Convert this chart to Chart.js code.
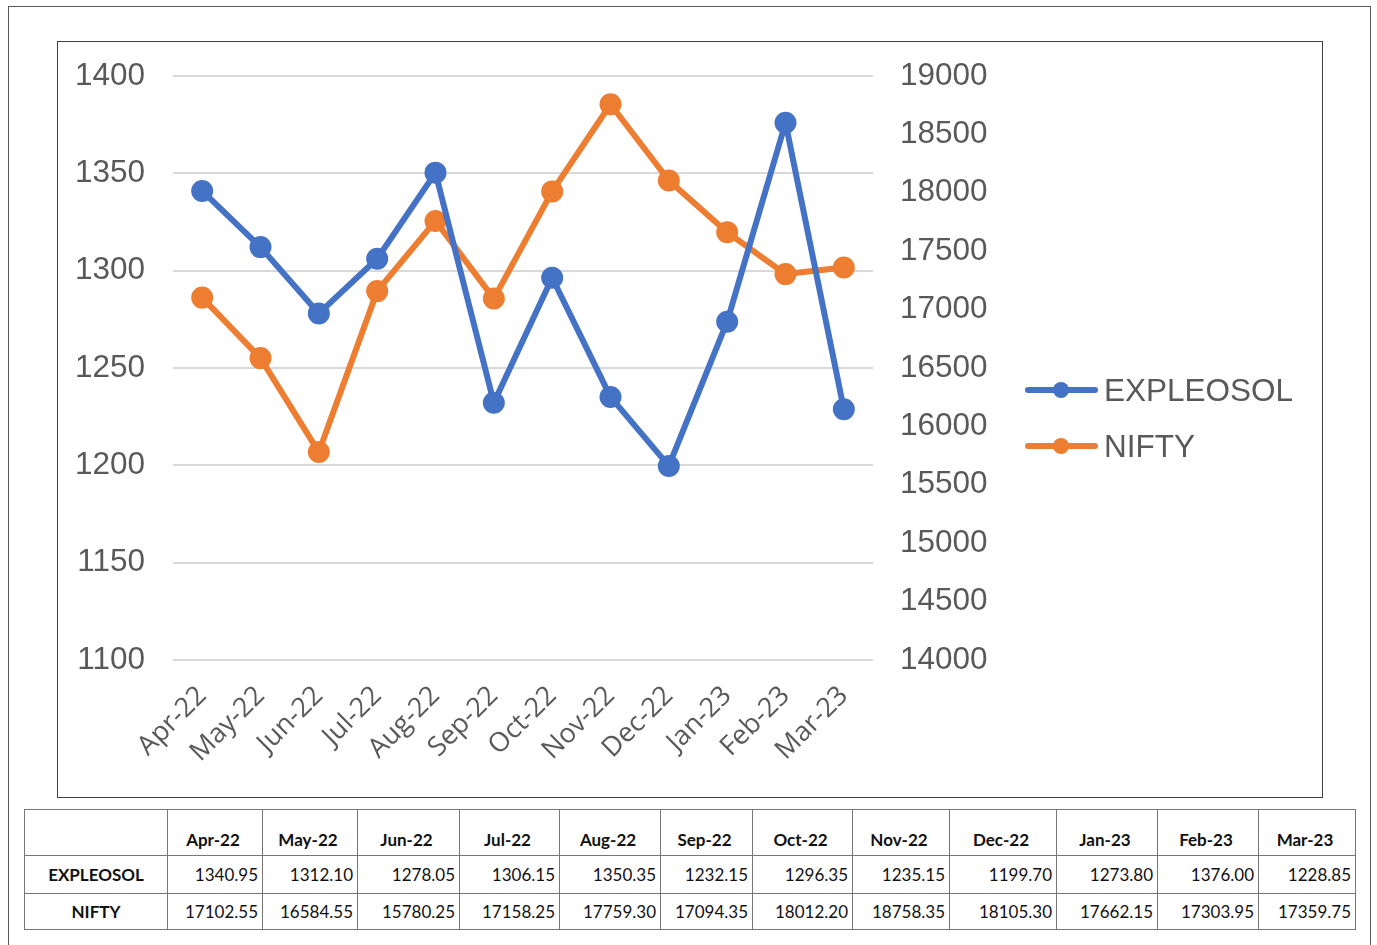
<!DOCTYPE html>
<html>
<head>
<meta charset="utf-8">
<script src="https://cdn.jsdelivr.net/npm/chart.js@4.4.1/dist/chart.umd.min.js"></script>
<style>
  html, body { margin: 0; padding: 0; background: #fff; width: 1377px; height: 945px; overflow: hidden; }
  #outer { position: absolute; left: 8px; top: 6px; width: 1363px; height: 960px; border: 1.5px solid #595959; box-sizing: border-box; }
  #inner { position: absolute; left: 57px; top: 41px; width: 1266px; height: 757px; border: 1.5px solid #404040; box-sizing: border-box; }
  #wrap { position: absolute; left: 58px; top: 42px; width: 1263px; height: 754px; }
  #legend { position: absolute; left: 1025px; top: 366px; font-family: "Liberation Sans", Arial, sans-serif; font-size: 31.5px; color: #595959; }
  .li { position: relative; height: 56px; }
  .ln { position: absolute; left: 0; top: 21px; width: 73px; height: 6px; border-radius: 3px; }
  .dt { position: absolute; left: 28px; top: 16px; width: 16px; height: 16px; border-radius: 50%; }
  .tx { position: absolute; left: 79px; top: 6px; white-space: nowrap; line-height: 36px; }
  table { position: absolute; left: 24px; top: 809px; border-collapse: collapse; table-layout: fixed; width: 1331px; font-family: Lato, "Open Sans", sans-serif; color: #111; }
  td { border: 1.5px solid #777; padding: 0 4px 0 0; text-align: right; font-size: 17px; height: 37px; }
  tr.r2 td { height: 35px; }
  tr.h td { height: 40px; vertical-align: bottom; padding-bottom: 5px; text-align: center; font-weight: bold; font-size: 17px; }
  td.rh { text-align: center; font-weight: bold; font-size: 17px; padding: 0; }
</style>
</head>
<body>
<div id="outer"></div>
<div id="inner"></div>
<div id="wrap"><canvas id="c"></canvas></div>
<div id="legend"></div>
<table id="tbl"></table>
<script>
const categories = ["Apr-22","May-22","Jun-22","Jul-22","Aug-22","Sep-22","Oct-22","Nov-22","Dec-22","Jan-23","Feb-23","Mar-23"];
const expleosol = [1340.95,1312.10,1278.05,1306.15,1350.35,1232.15,1296.35,1235.15,1199.70,1273.80,1376.00,1228.85];
const nifty = [17102.55,16584.55,15780.25,17158.25,17759.30,17094.35,18012.20,18758.35,18105.30,17662.15,17303.95,17359.75];
const seriesNames = ["EXPLEOSOL","NIFTY"];
const seriesColors = ["#4472C4","#ED7D31"];
const leftTicks = [1100,1150,1200,1250,1300,1350,1400];
const rightTicks = [14000,14500,15000,15500,16000,16500,17000,17500,18000,18500,19000];

const tickColor = "#595959";
const font = { family: "Liberation Sans, Arial, sans-serif", size: 31.5 };

new Chart(document.getElementById("c"), {
  type: "line",
  data: {
    labels: categories,
    datasets: [
      { label: seriesNames[0], data: expleosol, yAxisID: "y", borderColor: seriesColors[0], backgroundColor: seriesColors[0], borderWidth: 6, pointRadius: 8, pointHoverRadius: 8, tension: 0, borderCapStyle: "round", borderJoinStyle: "round" },
      { label: seriesNames[1], data: nifty, yAxisID: "y1", borderColor: seriesColors[1], backgroundColor: seriesColors[1], borderWidth: 6, pointRadius: 8, pointHoverRadius: 8, tension: 0, borderCapStyle: "round", borderJoinStyle: "round" }
    ]
  },
  options: {
    responsive: true,
    maintainAspectRatio: false,
    animation: false,
    layout: { padding: { top: 34, left: 0, right: 0, bottom: 0 } },
    plugins: { legend: { display: false }, tooltip: { enabled: false } },
    scales: {
      x: {
        offset: true,
        grid: { display: false, drawTicks: false },
        border: { display: false },
        ticks: { color: tickColor, font: { family: "Open Sans, sans-serif", size: 27 }, minRotation: 45, maxRotation: 45, padding: 20, autoSkip: false },
        afterFit: s => { s.height = 136; }
      },
      y: {
        position: "left",
        min: leftTicks[0], max: leftTicks[leftTicks.length - 1],
        afterBuildTicks: s => { s.ticks = leftTicks.map(v => ({ value: v })); },
        grid: { color: "#d9d9d9", lineWidth: 2, drawTicks: false },
        border: { display: false },
        ticks: { color: tickColor, font: font, padding: 28, callback: v => String(v) },
        afterFit: s => { s.width = 115; s.paddingTop = 0; s.paddingBottom = 0; }
      },
      y1: {
        position: "right",
        min: rightTicks[0], max: rightTicks[rightTicks.length - 1],
        afterBuildTicks: s => { s.ticks = rightTicks.map(v => ({ value: v })); },
        grid: { display: false, drawTicks: false },
        border: { display: false },
        ticks: { color: tickColor, font: font, padding: 27, callback: v => String(v) },
        afterFit: s => { s.width = 448; s.paddingTop = 0; s.paddingBottom = 0; }
      }
    }
  }
});

// legend
const lg = document.getElementById("legend");
seriesNames.forEach((n, i) => {
  const d = document.createElement("div");
  d.className = "li";
  d.innerHTML = '<div class="ln" style="background:' + seriesColors[i] + '"></div><div class="dt" style="background:' + seriesColors[i] + '"></div><div class="tx">' + n + '</div>';
  lg.appendChild(d);
});

// table
const colW = [143,95,95,102,100,101,92,100,97,107,101,101,97];
const tbl = document.getElementById("tbl");
let cg = "<colgroup>" + colW.map(w => '<col style="width:' + w + 'px">').join("") + "</colgroup>";
let html = cg + '<tr class="h"><td></td>' + categories.map(c => "<td>" + c + "</td>").join("") + "</tr>";
html += '<tr><td class="rh">' + seriesNames[0] + "</td>" + expleosol.map(v => "<td>" + v.toFixed(2) + "</td>").join("") + "</tr>";
html += '<tr class="r2"><td class="rh">' + seriesNames[1] + "</td>" + nifty.map(v => "<td>" + v.toFixed(2) + "</td>").join("") + "</tr>";
tbl.innerHTML = html;
</script>
</body>
</html>
